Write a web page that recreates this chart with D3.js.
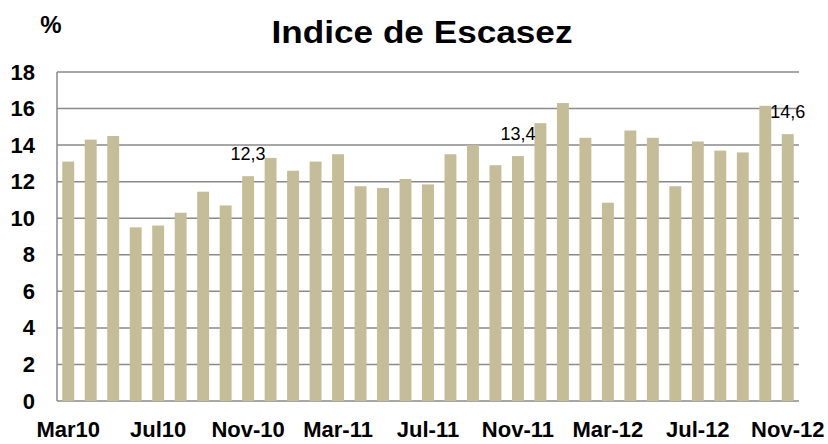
<!DOCTYPE html>
<html>
<head>
<meta charset="utf-8">
<script src="https://cdn.jsdelivr.net/npm/d3@7"></script>
<style>
  body { margin: 0; background: #fff; }
  text { font-family: "Liberation Sans", Arial, sans-serif; }
</style>
</head>
<body>
<div id="chart"></div>
<script>
// Monthly categories, Mar 2010 to Nov 2012
const months = [
    "Mar10", "Abr10", "May10", "Jun10", "Jul10", "Ago10", "Sep10", "Oct10",
    "Nov-10", "Dic-10", "Ene-11", "Feb-11", "Mar-11", "Abr-11", "May-11", "Jun-11",
    "Jul-11", "Ago-11", "Sep-11", "Oct-11", "Nov-11", "Dic-11", "Ene-12", "Feb-12",
    "Mar-12", "Abr-12", "May-12", "Jun-12", "Jul-12", "Ago-12", "Sep-12", "Oct-12",
    "Nov-12"
];
const values = [
    13.1, 14.3, 14.5, 9.5, 9.6, 10.3, 11.45, 10.7,
    12.3, 13.3, 12.6, 13.1, 13.5, 11.75, 11.65, 12.15,
    11.85, 13.5, 14.0, 12.9, 13.4, 15.2, 16.3, 14.4,
    10.85, 14.8, 14.4, 11.75, 14.2, 13.7, 13.6, 16.15,
    14.6
];
const tickMonths = ["Mar10", "Jul10", "Nov-10", "Mar-11", "Jul-11", "Nov-11", "Mar-12", "Jul-12", "Nov-12"];
const labeledMonths = ["Nov-10", "Nov-11", "Nov-12"];
const yTicks = [0, 2, 4, 6, 8, 10, 12, 14, 16, 18];

const data = months.map((m, i) => ({month: m, value: values[i]}));

const margin = {top: 72, right: 29, bottom: 43, left: 57},
      width = 828 - margin.left - margin.right,
      height = 444 - margin.top - margin.bottom;

const svg = d3.select("#chart").append("svg")
    .attr("width", 828)
    .attr("height", 444);

const g = svg.append("g")
    .attr("transform", `translate(${margin.left},${margin.top})`);

const x = d3.scaleBand()
    .domain(months)
    .range([0, width])
    .paddingInner(0.47)
    .paddingOuter(0.235);

const y = d3.scaleLinear()
    .domain([0, 18])
    .range([height, 0]);

// comma decimal for the data labels
const fmt = d3.formatLocale({decimal: ",", thousands: ".", grouping: [3], currency: ["", ""]}).format(".1f");

// Gridlines
g.selectAll("line.grid")
    .data(yTicks)
    .enter()
    .append("line")
    .attr("class", "grid")
    .attr("x1", 0)
    .attr("x2", width)
    .attr("y1", d => y(d))
    .attr("y2", d => y(d))
    .attr("stroke", "#8a8a8a")
    .attr("stroke-width", 1.5);

// Left axis line
g.append("line")
    .attr("x1", 0).attr("x2", 0)
    .attr("y1", y(18)).attr("y2", y(0))
    .attr("stroke", "#8a8a8a")
    .attr("stroke-width", 1.5);

// Bars
g.selectAll("rect.bar")
    .data(data)
    .enter()
    .append("rect")
    .attr("class", "bar")
    .attr("x", d => x(d.month))
    .attr("y", d => y(d.value))
    .attr("width", x.bandwidth())
    .attr("height", d => y(0) - y(d.value))
    .attr("fill", "#c4bd97");

// Y axis labels
const yAxis = g.append("g")
    .call(d3.axisLeft(y).tickValues(yTicks).tickSize(0).tickPadding(22));
yAxis.select(".domain").remove();
yAxis.selectAll("text")
    .attr("font-family", "Liberation Sans, Arial, sans-serif")
    .attr("font-size", 22)
    .attr("font-weight", "bold")
    .attr("fill", "#000");

// X axis labels
const xAxis = g.append("g")
    .attr("transform", `translate(0,${height})`)
    .call(d3.axisBottom(x).tickValues(tickMonths).tickSize(0).tickPadding(20));
xAxis.select(".domain").remove();
xAxis.selectAll("text")
    .attr("font-family", "Liberation Sans, Arial, sans-serif")
    .attr("font-size", 22)
    .attr("font-weight", "bold")
    .attr("fill", "#000");

// Data labels on selected bars
g.selectAll("text.value")
    .data(data.filter(d => labeledMonths.includes(d.month)))
    .enter()
    .append("text")
    .attr("class", "value")
    .attr("x", d => x(d.month) + x.bandwidth() / 2)
    .attr("y", d => y(d.value) - 16)
    .attr("text-anchor", "middle")
    .attr("font-size", 18)
    .attr("fill", "#000")
    .text(d => fmt(d.value));

// Title and unit
svg.append("text")
    .attr("x", 422)
    .attr("y", 43)
    .attr("text-anchor", "middle")
    .attr("font-size", 32)
    .attr("font-weight", "bold")
    .attr("textLength", 301)
    .attr("lengthAdjust", "spacingAndGlyphs")
    .text("Indice de Escasez");

svg.append("text")
    .attr("x", 51)
    .attr("y", 33)
    .attr("text-anchor", "middle")
    .attr("font-size", 24)
    .attr("font-weight", "bold")
    .text("%");
</script>
</body>
</html>
